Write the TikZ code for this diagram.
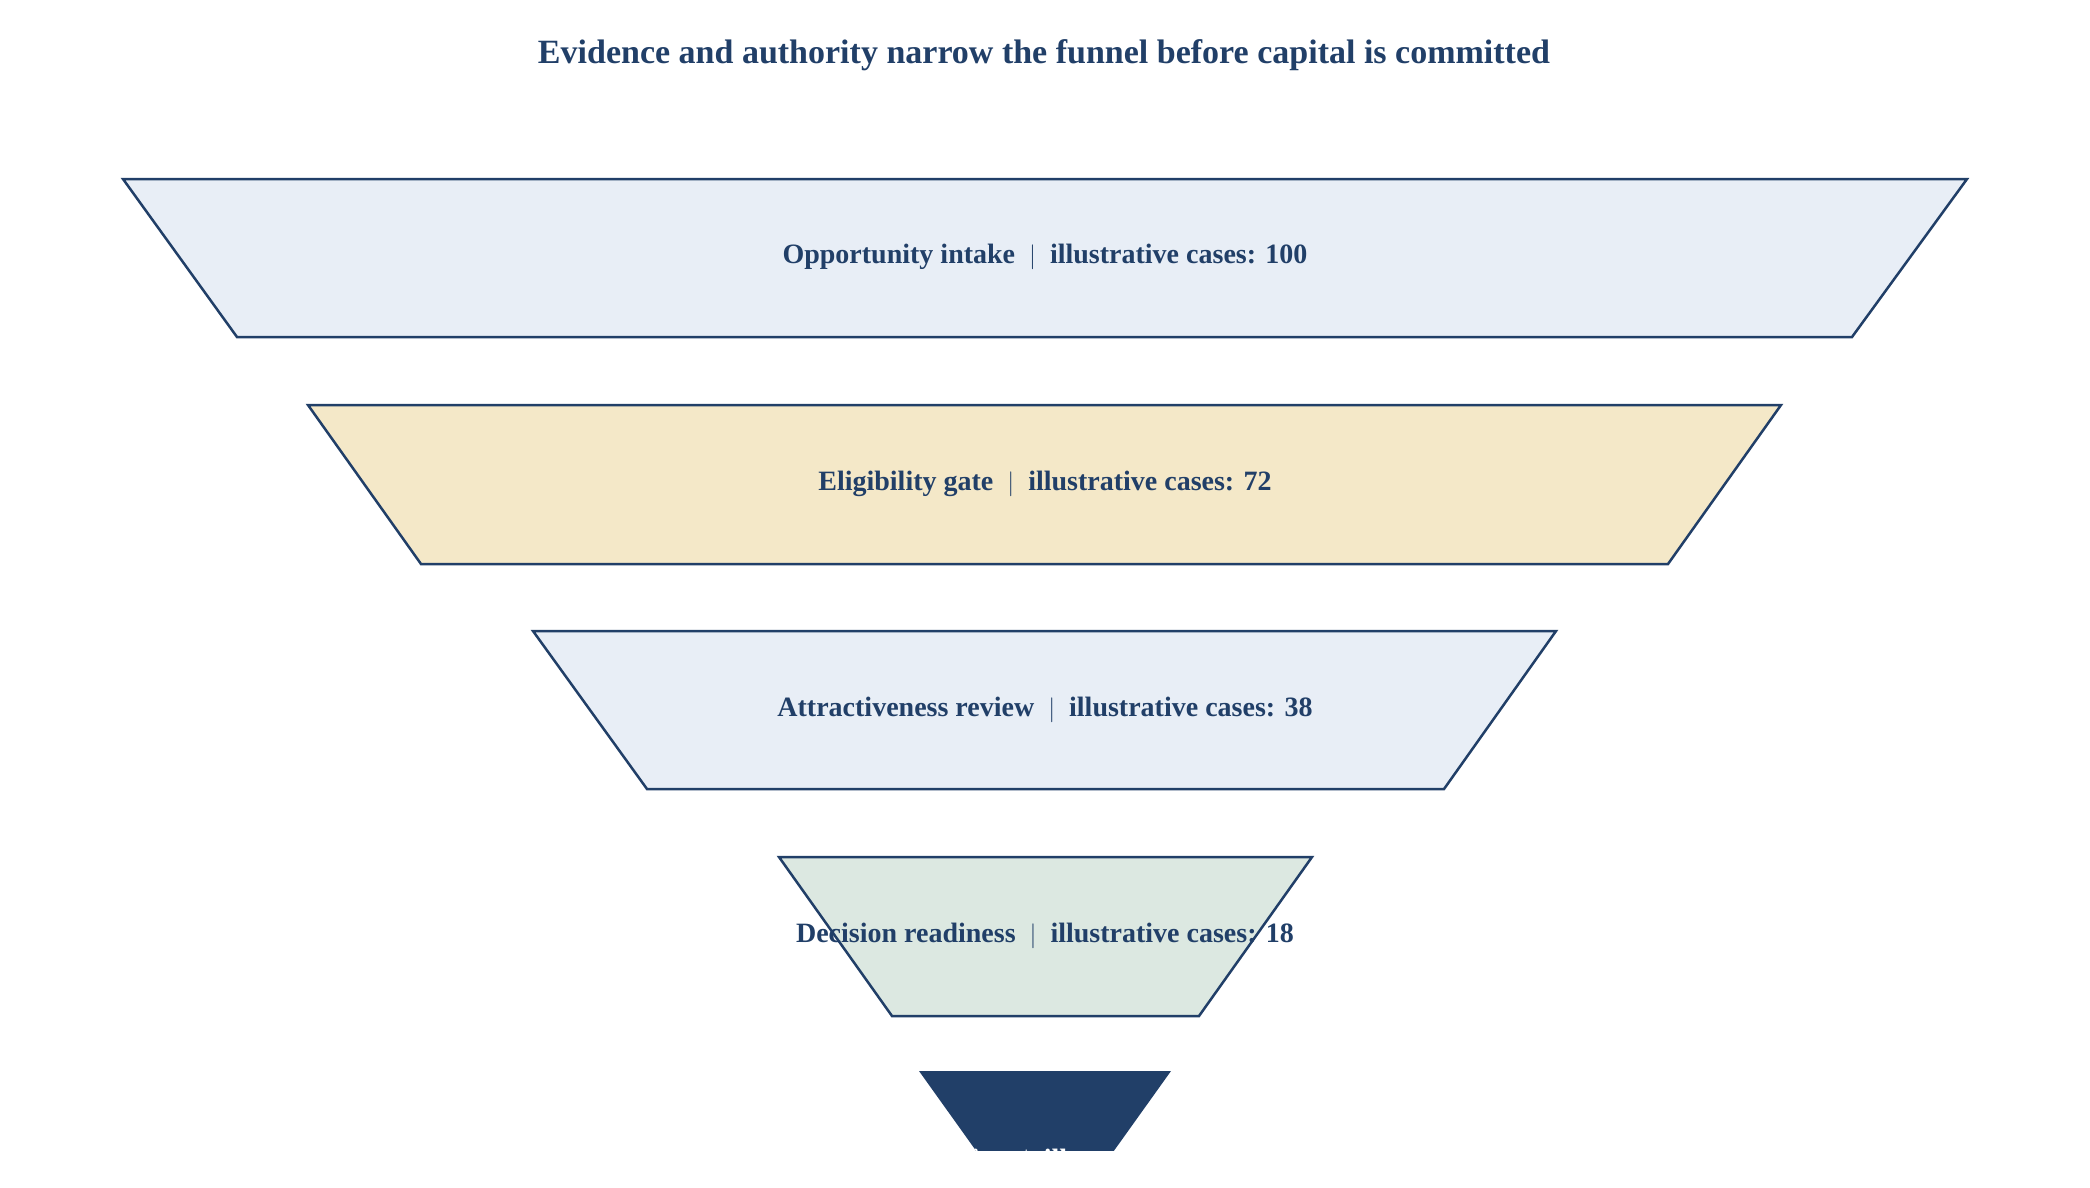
\documentclass[tikz,border=0pt]{standalone}
\usepackage{fontspec}
\setmainfont{Liberation Serif}
\usetikzlibrary{positioning}
\definecolor{mnavy}{HTML}{213F68}
\definecolor{mblue}{HTML}{E8EEF6}
\definecolor{msand}{HTML}{F4E8C8}
\definecolor{mgreen}{HTML}{DCE8E1}
\tikzset{stage/.style = {draw=mnavy, line width=2.5pt, line join=miter}}
\tikzset{lab/.style = {font=\fontsize{28}{32}\selectfont\bfseries, text=mnavy, inner sep=0}}
\begin{document}
\begin{tikzpicture}[x=1pt, y=-1pt]
  \useasboundingbox (0, 0) rectangle (2090, 1187);
  \node [font=\fontsize{34}{40}\selectfont\bfseries, text=mnavy] (title) at (1044, 55)
    {Evidence and authority narrow the funnel before capital is committed};
  \begin{scope}
    \clip (0, 0) rectangle (2090, 1150);
    % top y, bottom y, top left, top right, bottom left, bottom right, fill, name
    \foreach \t/\b/\a/\c/\d/\e/\f/\n/\txt in {
        179/337/123/1967/237/1852/mblue/intake/Opportunity intake,
        405/564/308/1781/421/1668/msand/gate/Eligibility gate,
        631/789/533/1556/647/1444/mblue/review/Attractiveness review,
        857/1016/779/1312/892/1199/mgreen/ready/Decision readiness} {
      \draw [stage, fill=\f] (\a, \t) -- (\c, \t) -- (\e, \b) -- (\d, \b) -- cycle;
    }
    \fill [mnavy] (919, 1071) -- (1171, 1071) -- (1058, 1229) -- (1032, 1229) -- cycle;
  \end{scope}
  \node [lab] (intake) at (1045, 257) {Opportunity intake \ $|$ \ illustrative cases: 100};
  \node [lab] (gate) at (1045, 484) {Eligibility gate \ $|$ \ illustrative cases: 72};
  \node [lab] (review) at (1045, 710) {Attractiveness review \ $|$ \ illustrative cases: 38};
  \node [lab] (ready) at (1045, 936) {Decision readiness \ $|$ \ illustrative cases: 18};
  \begin{scope}
    \clip (919, 1071) -- (1171, 1071) -- (1058, 1229) -- (1032, 1229) -- cycle;
    \clip (0, 0) rectangle (2090, 1150);
    \node [lab, text=white] (decision) at (1045, 1162) {Capital decision \ $|$ \ illustrative cases: 7};
  \end{scope}
\end{tikzpicture}
\end{document}
